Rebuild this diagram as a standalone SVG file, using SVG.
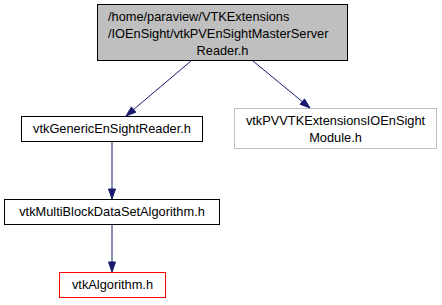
<svg xmlns="http://www.w3.org/2000/svg" width="442" height="305" viewBox="0 0 442 305">
  <style>
    .node rect { stroke-width: 1; }
    .lbl { font-family: "Liberation Sans", Arial, Helvetica, sans-serif; font-size: 12.8px; fill: #000000; text-anchor: middle; }
    .left { text-anchor: start; }
    .edge { stroke: #191970; stroke-width: 1; fill: none; }
    .head { fill: #191970; stroke: #191970; stroke-width: 1; }
  </style>
  <rect x="0" y="0" width="442" height="305" fill="#ffffff"/>

  <g id="node1" class="node">
    <rect x="97.5" y="4.5" width="250" height="56" fill="#bfbfbf" stroke="#000000"/>
    <text class="lbl left" x="108" y="21">/home/paraview/VTKExtensions</text>
    <text class="lbl left" x="108" y="38">/IOEnSight/vtkPVEnSightMasterServer</text>
    <text class="lbl" x="222.5" y="55">Reader.h</text>
  </g>

  <g id="node2" class="node">
    <rect x="21.5" y="116.5" width="181" height="25" fill="#ffffff" stroke="#000000"/>
    <text class="lbl" x="112" y="133">vtkGenericEnSightReader.h</text>
  </g>

  <g id="node3" class="node">
    <rect x="234.5" y="108.5" width="202" height="40" fill="#ffffff" stroke="#bfbfbf"/>
    <text class="lbl" x="335.5" y="125">vtkPVVTKExtensionsIOEnSight</text>
    <text class="lbl" x="335.5" y="142">Module.h</text>
  </g>

  <g id="node4" class="node">
    <rect x="4.5" y="199.5" width="215" height="25" fill="#ffffff" stroke="#000000"/>
    <text class="lbl" x="112" y="216">vtkMultiBlockDataSetAlgorithm.h</text>
  </g>

  <g id="node5" class="node">
    <rect x="59.5" y="272.5" width="106" height="25" fill="#ffffff" stroke="#ff0000"/>
    <text class="lbl" x="112.5" y="289">vtkAlgorithm.h</text>
  </g>

  <g id="edges">
    <path class="edge" d="M191,61 L133.6,109.5"/>
    <polygon class="head" points="135.9,112.2 126,116 131.4,106.9"/>
    <path class="edge" d="M253,61 L302.3,101.6"/>
    <polygon class="head" points="300.1,104.3 310,108 304.5,98.9"/>
    <path class="edge" d="M112,142 L112,189"/>
    <polygon class="head" points="108.5,189 112,199 115.5,189"/>
    <path class="edge" d="M112,225 L112,262"/>
    <polygon class="head" points="108.5,262 112,272 115.5,262"/>
  </g>
</svg>
